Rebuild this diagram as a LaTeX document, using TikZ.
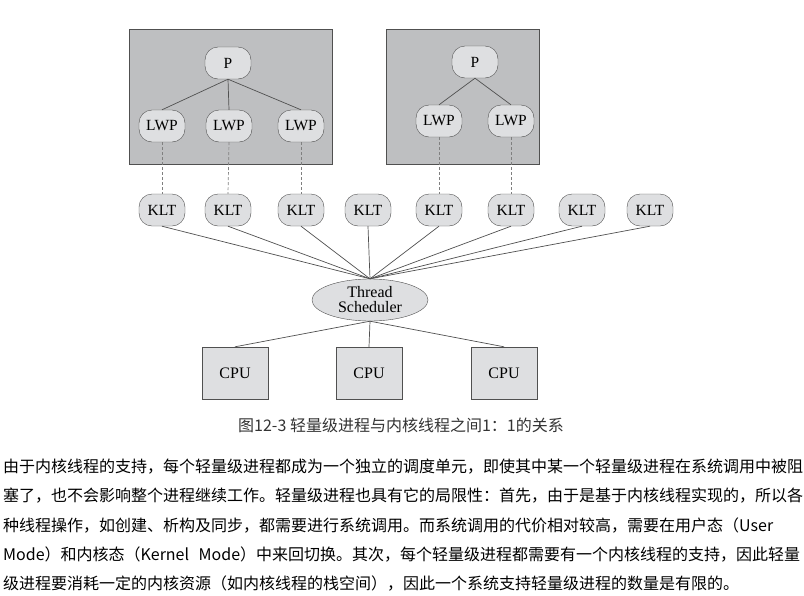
\documentclass[tikz,border=0pt]{standalone}
\usepackage{fontspec}
\setmainfont{Liberation Serif}
\newfontfamily\cjk{Noto Sans CJK SC}
\usepackage{xcolor}
\usepackage{tikz}
\usetikzlibrary{positioning,shapes}

% let the Chinese lines stretch between characters
\XeTeXlinebreaklocale "zh"
\XeTeXlinebreakskip=0pt plus 1pt

\definecolor{boxgray}{HTML}{BEBFC1}
\definecolor{nodegray}{HTML}{DEDFE1}
\definecolor{edgegray}{HTML}{505050}

\newcommand{\fullline}[1]{\makebox[797pt][s]{#1}}

\tikzset{
  pill/.style={draw=edgegray, fill=nodegray, rounded corners=13pt, minimum width=46pt,
               minimum height=32pt, inner sep=0pt, font=\fontsize{15.5}{15.5}\selectfont},
  cpubox/.style={draw=edgegray, fill=nodegray, minimum width=66pt, minimum height=52pt,
                 inner sep=0pt, font=\fontsize{16}{16}\selectfont},
  link/.style={draw=edgegray, line width=0.7pt},
  dashlink/.style={draw=gray, line width=0.7pt, dash pattern=on 3pt off 2pt},
  bodyline/.style={anchor=west, inner sep=0pt, font=\cjk\fontsize{16}{16}\selectfont},
}

\begin{document}
\begin{tikzpicture}[x=1pt, y=-1pt]

\fill[white] (0,0) rectangle (804,595);
\useasboundingbox (0,0) rectangle (804,595);

% LEFT PROCESS: one P with three LWPs
\fill[boxgray, draw=edgegray, line width=0.8pt] (129,29) rectangle (332,164);
\node[pill] (pa) at (228,63) {P};
\node[pill] (lwpa1) at (162,126) {LWP};
\node[pill] (lwpa2) at (229,126) {LWP};
\node[pill] (lwpa3) at (301,126) {LWP};
\foreach \k in {1,2,3} {
    \draw[link] (pa.south) -- (lwpa\k.north);
}

% RIGHT PROCESS: one P with two LWPs
\fill[boxgray, draw=edgegray, line width=0.8pt] (386,29) rectangle (539,164);
\node[pill] (pb) at (475,62) {P};
\node[pill] (lwpb1) at (439,121) {LWP};
\node[pill] (lwpb2) at (511,121) {LWP};
\foreach \k in {1,2} {
    \draw[link] (pb.south) -- (lwpb\k.north);
}

% Kernel threads
\foreach \x [count=\k] in {162,228,301,368,439,511,582,650} {
    \node[pill] (klt\k) at (\x,210) {KLT};
}

% LWP to KLT, one to one
\draw[dashlink] (lwpa1.south) -- (klt1.north);
\draw[dashlink] (lwpa2.south) -- (klt2.north);
\draw[dashlink] (lwpa3.south) -- (klt3.north);
\draw[dashlink] (lwpb1.south) -- (klt5.north);
\draw[dashlink] (lwpb2.south) -- (klt6.north);

% Scheduler
\node[ellipse, draw=edgegray, fill=nodegray, minimum width=116pt, minimum height=42pt,
      inner sep=0pt, align=center, font=\fontsize{16}{15}\selectfont] (sched) at (370,300)
      {Thread\\Scheduler};
\foreach \k in {1,...,8} {
    \draw[link] (klt\k.south) -- (sched.north);
}

% CPUs
\foreach \x [count=\k] in {235,369,504} {
    \node[cpubox] (cpu\k) at (\x,373) {CPU};
    \draw[link] (sched.south) -- (cpu\k.north);
}

% Caption
\node[font=\cjk\fontsize{16}{16}\selectfont, text=black!80] (caption) at (401,425)
    {图12-3 轻量级进程与内核线程之间1：1的关系};

% Body text
\node[bodyline] (line1) at (3,467) {\fullline{由于内核线程的支持，每个轻量级进程都成为一个独立的调度单元，即使其中某一个轻量级进程在系统调用中被阻}};
\node[bodyline] (line2) at (3,496) {\fullline{塞了，也不会影响整个进程继续工作。轻量级进程也具有它的局限性：首先，由于是基于内核线程实现的，所以各}};
\node[bodyline] (line3) at (3,526) {\fullline{种线程操作，如创建、析构及同步，都需要进行系统调用。而系统调用的代价相对较高，需要在用户态（User}};
\node[bodyline] (line4) at (3,555) {\fullline{Mode）和内核态（Kernel Mode）中来回切换。其次，每个轻量级进程都需要有一个内核线程的支持，因此轻量}};
\node[bodyline] (line5) at (3,584) {级进程要消耗一定的内核资源（如内核线程的栈空间），因此一个系统支持轻量级进程的数量是有限的。};

\end{tikzpicture}
\end{document}
